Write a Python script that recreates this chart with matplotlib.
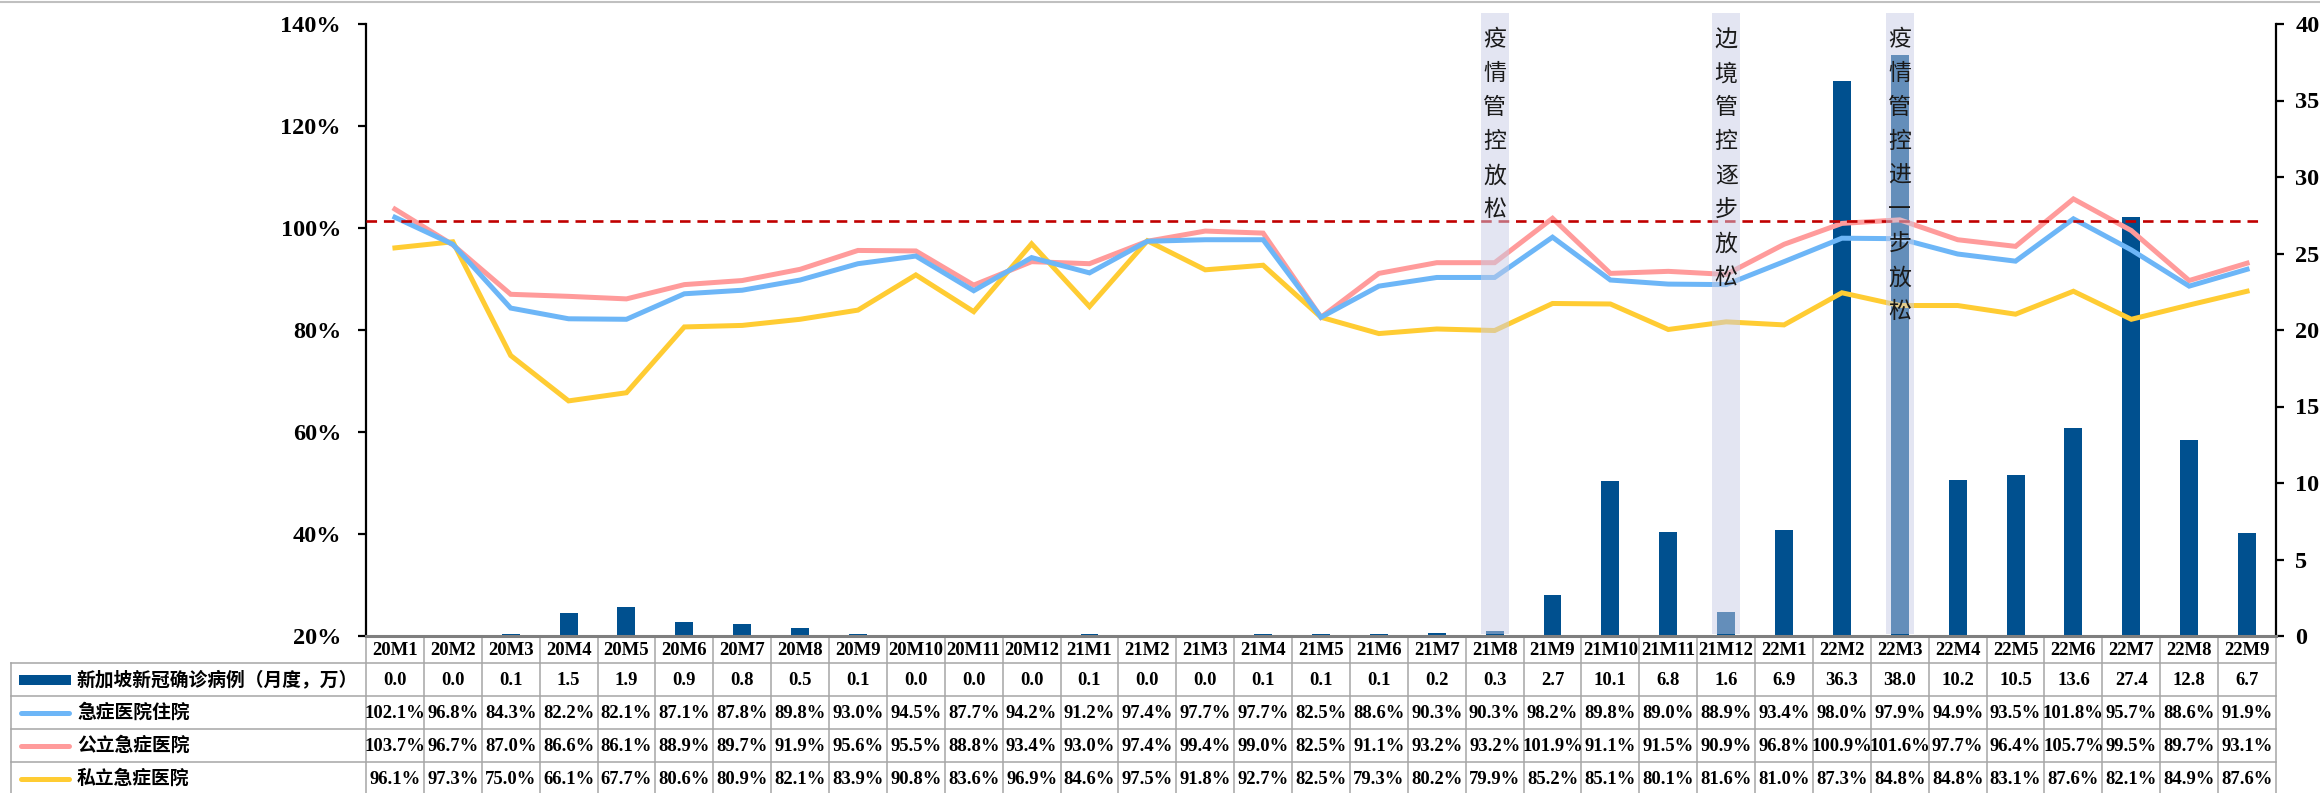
import matplotlib
matplotlib.use('Agg')
import matplotlib.pyplot as plt
from matplotlib.transforms import blended_transform_factory
from matplotlib.patches import Rectangle
from matplotlib.lines import Line2D
from matplotlib.ticker import FuncFormatter

categories = ['20M1', '20M2', '20M3', '20M4', '20M5', '20M6', '20M7', '20M8', '20M9', '20M10', '20M11', '20M12',
              '21M1', '21M2', '21M3', '21M4', '21M5', '21M6', '21M7', '21M8', '21M9', '21M10', '21M11', '21M12',
              '22M1', '22M2', '22M3', '22M4', '22M5', '22M6', '22M7', '22M8', '22M9']
cases = [0.0, 0.0, 0.1, 1.5, 1.9, 0.9, 0.8, 0.5, 0.1, 0.0, 0.0, 0.0,
         0.1, 0.0, 0.0, 0.1, 0.1, 0.1, 0.2, 0.3, 2.7, 10.1, 6.8, 1.6,
         6.9, 36.3, 38.0, 10.2, 10.5, 13.6, 27.4, 12.8, 6.7]
acute_all = [102.1, 96.8, 84.3, 82.2, 82.1, 87.1, 87.8, 89.8, 93.0, 94.5, 87.7, 94.2,
             91.2, 97.4, 97.7, 97.7, 82.5, 88.6, 90.3, 90.3, 98.2, 89.8, 89.0, 88.9,
             93.4, 98.0, 97.9, 94.9, 93.5, 101.8, 95.7, 88.6, 91.9]
acute_public = [103.7, 96.7, 87.0, 86.6, 86.1, 88.9, 89.7, 91.9, 95.6, 95.5, 88.8, 93.4,
                93.0, 97.4, 99.4, 99.0, 82.5, 91.1, 93.2, 93.2, 101.9, 91.1, 91.5, 90.9,
                96.8, 100.9, 101.6, 97.7, 96.4, 105.7, 99.5, 89.7, 93.1]
acute_private = [96.1, 97.3, 75.0, 66.1, 67.7, 80.6, 80.9, 82.1, 83.9, 90.8, 83.6, 96.9,
                 84.6, 97.5, 91.8, 92.7, 82.5, 79.3, 80.2, 79.9, 85.2, 85.1, 80.1, 81.6,
                 81.0, 87.3, 84.8, 84.8, 83.1, 87.6, 82.1, 84.9, 87.6]
reference_level = 101.4
row_labels = ['新加坡新冠确诊病例（月度，万）', '急症医院住院', '公立急症医院', '私立急症医院']
events = {'21M8': '疫情管控放松', '21M12': '边境管控逐步放松', '22M3': '疫情管控进一步放松'}
left_ticks = [20, 40, 60, 80, 100, 120, 140]
right_ticks = [0, 5, 10, 15, 20, 25, 30, 35, 40]

C_BAR = '#00508F'
C_BLUE = '#6DB6F7'
C_PINK = '#FF9B9B'
C_YEL = '#FFCC33'
C_RED = '#C00000'
C_GRID = '#A6A6A6'

NUM = 'Liberation Serif'
CJK = ['Noto Sans CJK SC', 'DejaVu Sans']

W, H = 2320, 793
fig = plt.figure(figsize=(W / 100, H / 100), dpi=100)
ax_l, ax_r, ax_t, ax_b = 366, 2276, 24, 636
ax = fig.add_axes([ax_l / W, 1 - ax_b / H, (ax_r - ax_l) / W, (ax_b - ax_t) / H])
ax2 = ax.twinx()
ax.set_zorder(ax2.get_zorder() + 1)
ax.patch.set_visible(False)

n = len(categories)
x = list(range(n))
ax.set_xlim(-0.5, n - 0.5)
ax.set_ylim(20, 140)
ax2.set_ylim(0, 40)

# bars
ax2.bar(x, cases, width=0.31, color=C_BAR, zorder=2)

# lines
ax.plot(x, acute_all, color=C_BLUE, lw=3.6, zorder=4, solid_joinstyle='miter')
ax.plot(x, acute_public, color=C_PINK, lw=3.6, zorder=3, solid_joinstyle='miter')
ax.plot(x, acute_private, color=C_YEL, lw=3.6, zorder=3, solid_joinstyle='miter')
ax.hlines(reference_level, -0.5, n - 0.75, colors=C_RED, lw=1.9, linestyles=(0, (4, 2.6)), zorder=5)

# event bands
axh = ax_b - ax_t
for cat, txt in events.items():
    i = categories.index(cat)
    ax.axvspan(i - 0.24, i + 0.24, ymin=0.004, ymax=1.018, color='#C8CDE6', alpha=0.5,
               lw=0, zorder=6, clip_on=False)
    for k, ch in enumerate(txt):
        ypx = 40 + 34 * k
        ax.text(i, (ax_b - ypx) / axh, ch, transform=blended_transform_factory(ax.transData, ax.transAxes),
                ha='center', va='center', fontsize=16.5, family=CJK, color='#1a1a1a', zorder=7)

# axes styling
for s in ['top']:
    ax.spines[s].set_visible(False)
    ax2.spines[s].set_visible(False)
ax.spines['left'].set_linewidth(1.6)
ax2.spines['right'].set_linewidth(1.6)
ax.spines['bottom'].set_color('#7F7F7F')
ax.spines['bottom'].set_linewidth(2.2)
ax2.spines['bottom'].set_visible(False)
ax2.spines['left'].set_visible(False)
ax.spines['right'].set_visible(False)
ax.set_xticks([])
ax2.set_xticks([])
ax.set_yticks(left_ticks)
ax.yaxis.set_major_formatter(FuncFormatter(lambda v, p: f'{v:.0f}%'))
ax2.set_yticks(right_ticks)
ax.tick_params(axis='y', direction='out', length=6, width=1.6, pad=12)
ax2.tick_params(axis='y', direction='out', length=6, width=1.6, pad=8)
for lab in ax.get_yticklabels() + ax2.get_yticklabels():
    lab.set_fontfamily(NUM)
    lab.set_fontweight('bold')
    lab.set_fontsize(17.5)

# table
bt = blended_transform_factory(ax.transData, ax.transAxes)
def yf(px):
    return (ax_b - px) / axh
hdr_bot = 663
row_h = 33
rows_vals = [[f'{v:.1f}' for v in cases],
             [f'{v:.1f}%' for v in acute_all],
             [f'{v:.1f}%' for v in acute_public],
             [f'{v:.1f}%' for v in acute_private]]
table_bot = hdr_bot + row_h * len(rows_vals)
left_edge = (11 - ax_l) / (ax_r - ax_l)

for j in range(n + 1):
    ax.add_line(Line2D([j - 0.5, j - 0.5], [yf(ax_b), yf(table_bot)], transform=bt, color=C_GRID,
                       lw=1.1, clip_on=False, zorder=1))
for r in range(len(rows_vals) + 1):
    yy = yf(hdr_bot + r * row_h)
    ax.add_line(Line2D([left_edge, 1], [yy, yy], transform=ax.transAxes, color=C_GRID,
                       lw=1.1, clip_on=False, zorder=1))
ax.add_line(Line2D([left_edge, left_edge], [yf(hdr_bot), yf(table_bot)], transform=ax.transAxes,
                   color=C_GRID, lw=1.1, clip_on=False, zorder=1))

for j, c in enumerate(categories):
    ax.text(j, yf((ax_b + hdr_bot) / 2 + 1), c, transform=bt, ha='center', va='center',
            fontsize=13.5, family=NUM, fontweight='bold', clip_on=False)
for r, vals in enumerate(rows_vals):
    yc = yf(hdr_bot + row_h * r + row_h / 2 + 1)
    for j, v in enumerate(vals):
        ax.text(j, yc, v, transform=bt, ha='center', va='center', fontsize=13.4,
                family=NUM, fontweight='bold', clip_on=False)

# row labels with legend keys
styles = [('bar', C_BAR), ('line', C_BLUE), ('line', C_PINK), ('line', C_YEL)]
for r, (lab, (kind, col)) in enumerate(zip(row_labels, styles)):
    ypx = hdr_bot + row_h * r + row_h / 2
    yc = 1 - ypx / H
    if kind == 'bar':
        fig.add_artist(Rectangle((19 / W, yc - 5 / H), 52 / W, 10 / H, transform=fig.transFigure,
                                 color=col, lw=0))
    else:
        fig.add_artist(Line2D([21 / W, 69 / W], [yc, yc], transform=fig.transFigure, color=col,
                              lw=3.6, solid_capstyle='round'))
    fig.text(77 / W, yc, lab, ha='left', va='center', fontsize=13.5, family=CJK, fontweight='bold')

# top border line
fig.add_artist(Line2D([0, 1], [1 - 1.5 / H, 1 - 1.5 / H], transform=fig.transFigure, color='#C0C0C0', lw=1.5))

fig.savefig('out.png', dpi=100)
